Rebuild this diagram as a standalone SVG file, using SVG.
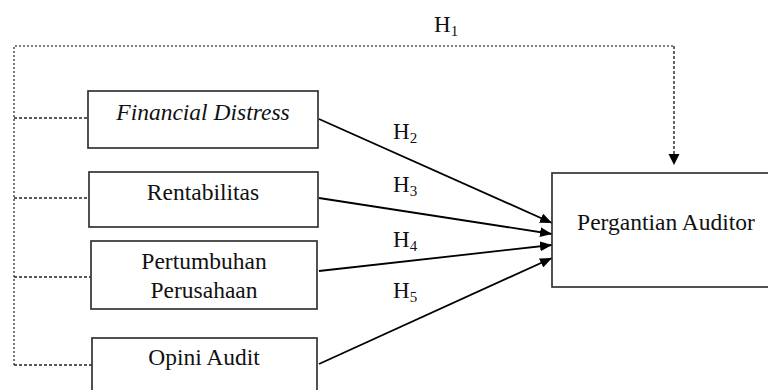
<svg xmlns="http://www.w3.org/2000/svg" width="768" height="390" viewBox="0 0 768 390">
<style>
.box{fill:#fff;stroke:#333;stroke-width:1.7}
.t{font-family:"Liberation Serif","Times New Roman",serif;font-size:23.5px;fill:#111;text-anchor:middle}
.h{font-family:"Liberation Serif","Times New Roman",serif;font-size:23px;fill:#111}
.sub{font-size:15px}
.dot{fill:none;stroke:#555;stroke-width:1.6;stroke-dasharray:2 2}
.dash{fill:none;stroke:#222;stroke-width:1.4;stroke-dasharray:3 2}
.arr{fill:none;stroke:#000;stroke-width:1.8}
</style>
<defs>
<marker id="ah" markerUnits="userSpaceOnUse" markerWidth="12" markerHeight="10" refX="12" refY="5" orient="auto">
<path d="M0,0 L12,5 L0,10 Z" fill="#000"/>
</marker>
</defs>
<g id="connectors">
<path class="dot" d="M14,365 L14,46 L674,46"/>
<path class="dash" d="M674,46 L674,155" stroke-dasharray="5 3" stroke-width="1.6"/>
<path d="M668.5,154 L679.5,154 L674,165 Z" fill="#000"/>
<line class="dash" x1="14" y1="118" x2="88" y2="118"/>
<line class="dash" x1="14" y1="198" x2="89" y2="198"/>
<line class="dash" x1="14" y1="277" x2="91" y2="277"/>
<line class="dash" x1="14" y1="365" x2="92" y2="365"/>
<line class="arr" x1="319" y1="119" x2="552" y2="223" marker-end="url(#ah)"/>
<line class="arr" x1="319" y1="198" x2="552" y2="234" marker-end="url(#ah)"/>
<line class="arr" x1="319" y1="271" x2="552" y2="245" marker-end="url(#ah)"/>
<line class="arr" x1="319" y1="364" x2="552" y2="258" marker-end="url(#ah)"/>
<text class="h" x="434" y="32">H<tspan class="sub" dy="4">1</tspan></text>
<text class="h" x="393" y="139">H<tspan class="sub" dy="4">2</tspan></text>
<text class="h" x="393" y="192">H<tspan class="sub" dy="4">3</tspan></text>
<text class="h" x="393" y="247">H<tspan class="sub" dy="4">4</tspan></text>
<text class="h" x="393" y="298">H<tspan class="sub" dy="4">5</tspan></text>
</g>
<g id="financial-distress">
<rect class="box" x="88" y="91" width="230" height="57"/>
<text class="t" x="203" y="120" font-style="italic">Financial Distress</text>
</g>
<g id="rentabilitas">
<rect class="box" x="89" y="172" width="229" height="55"/>
<text class="t" x="203" y="200">Rentabilitas</text>
</g>
<g id="pertumbuhan">
<rect class="box" x="91" y="241" width="226" height="68"/>
<text class="t" x="204" y="269">Pertumbuhan</text>
<text class="t" x="204" y="298">Perusahaan</text>
</g>
<g id="opini-audit">
<rect class="box" x="92" y="338" width="225" height="60"/>
<text class="t" x="204" y="365">Opini Audit</text>
</g>
<g id="pergantian-auditor">
<rect class="box" x="552" y="173" width="225" height="114"/>
<text class="t" x="666" y="230">Pergantian Auditor</text>
</g>
</svg>
